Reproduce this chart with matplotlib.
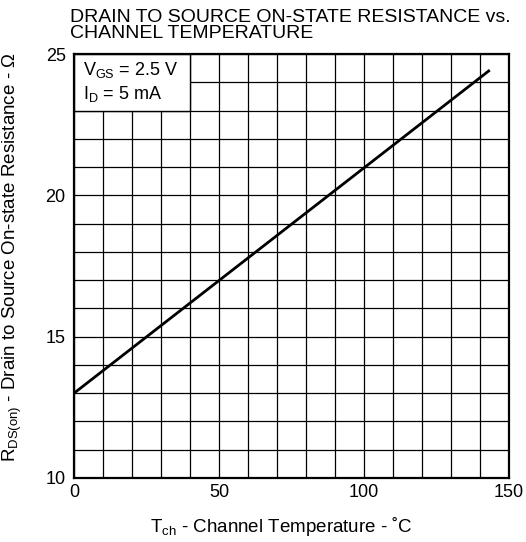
import numpy as np
import matplotlib.pyplot as plt
from matplotlib.patches import Rectangle

plt.rcParams['font.family'] = ['Liberation Sans', 'DejaVu Sans']
plt.rcParams['mathtext.fontset'] = 'custom'
plt.rcParams['mathtext.rm'] = 'Liberation Sans'
plt.rcParams['mathtext.it'] = 'Liberation Sans'

# данные
temp = [0, 143]          # Tch, °C
rds = [13.0, 24.4]       # RDS(on), Ω
x_ticks = [0, 50, 100, 150]
y_ticks = [10, 15, 20, 25]

fig = plt.figure(figsize=(5.26, 5.42), dpi=100)
ax = fig.add_axes([74 / 526, 1 - 478 / 542, 435 / 526, 424 / 542])

ax.set_xlim(0, 150)
ax.set_ylim(10, 25)
ax.set_xticks(x_ticks)
ax.set_yticks(y_ticks)
ax.set_xticks(np.arange(0, 151, 10), minor=True)
ax.set_yticks(np.arange(10, 26, 1), minor=True)
ax.grid(which='both', color='black', linewidth=0.9)
ax.set_axisbelow(True)
ax.tick_params(which='both', length=0, labelsize=13)
ax.tick_params(axis='x', pad=4)
ax.tick_params(axis='y', pad=6)
for s in ax.spines.values():
    s.set_linewidth(1.6)

ax.plot(temp, rds, color='black', linewidth=2, zorder=3)

# блок условий
ax.add_patch(Rectangle((0, 23), 40, 2, facecolor='white', edgecolor='black',
                       linewidth=1.0, zorder=2))
ax.text(3, 24.45, r'V$_{\mathrm{GS}}$ = 2.5 V', fontsize=13, va='center', zorder=4)
ax.text(3, 23.6, r'I$_{\mathrm{D}}$ = 5 mA', fontsize=13, va='center', zorder=4)

fig.text(70 / 526, 1 - 9 / 542,
         'DRAIN TO SOURCE ON-STATE RESISTANCE vs.\nCHANNEL TEMPERATURE',
         fontsize=14, va='top', ha='left', linespacing=0.95)

ax.set_xlabel(r'T$_{\mathrm{ch}}$ - Channel Temperature - ˚C', fontsize=13.5)
ax.set_ylabel(r'R$_{\mathrm{DS(on)}}$ - Drain to Source On-state Resistance - Ω',
              fontsize=13.5)
ax.xaxis.set_label_coords(0.476, -0.088)
ax.yaxis.set_label_coords(-0.114, 0.521)

fig.savefig('out.png', dpi=100)
